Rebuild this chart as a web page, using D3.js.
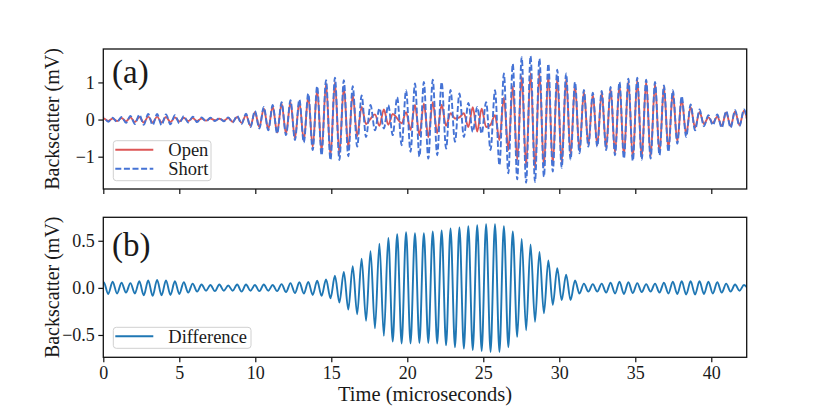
<!DOCTYPE html>
<html>
<head>
<meta charset="utf-8">
<script src="https://cdn.jsdelivr.net/npm/d3@7"></script>
<style>
  html, body { margin: 0; padding: 0; background: #fff; }
  svg text { font-family: "Liberation Serif", "Times New Roman", serif; fill: #1a1a1a; }
</style>
</head>
<body>
<svg id="chart" width="830" height="412"></svg>
<script>
// extrema of each trace, one value every half period (microseconds)
var tFirst = -0.2625;
var tStep = 0.2925;

var shortPeaks = [
  -0.04, 0.05, -0.06, 0.05, -0.07, 0.07, -0.09, 0.10, -0.12, 0.13, -0.14, 0.15, -0.15, 0.15, -0.15, 0.14, -0.13,
  0.12, -0.10, 0.09, -0.08, 0.08, -0.07, 0.06, -0.05, 0.05, -0.04, 0.04, -0.05, 0.06, -0.08, 0.10, -0.12, 0.16,
  -0.20, 0.23, -0.24, 0.34, -0.29, 0.39, -0.38, 0.47, -0.42, 0.52, -0.55, 0.54, -0.62, 0.70, -0.82, 0.90, -0.96, 1.06, -1.09, 1.13,
  -1.09, 1.06, -0.99, 0.90, -0.73, 0.65, -0.47, 0.39, -0.29, 0.30, -0.24, 0.39, -0.42, 0.60, -0.69, 0.79, -0.87, 0.97,
  -1.00, 1.01, -1.05, 1.07, -0.96, 1.01, -0.78, 0.80, -0.60, 0.70, -0.47, 0.45, -0.33, 0.34, -0.38, 0.47, -0.82, 0.79,
  -1.23, 1.24, -1.45, 1.50, -1.61, 1.68, -1.70, 1.71, -1.68, 1.64, -1.54, 1.50, -1.40, 1.34, -1.30, 1.24,
  -1.08, 1.01, -0.91, 0.80, -0.73, 0.72, -0.73, 0.77, -0.82, 0.88, -0.96, 1.01, -1.05, 1.10, -1.11, 1.13,
  -1.08, 1.07, -1.05, 1.01, -0.96, 0.92, -0.87, 0.79, -0.65, 0.63, -0.47, 0.41, -0.29, 0.27, -0.18, 0.12,
  -0.15, 0.14, -0.22, 0.23, -0.22, 0.25, -0.18, 0.27, -0.22
];

var openPeaks = [
  -0.02, 0.03, -0.04, 0.03, -0.04, 0.04, -0.05, 0.06, -0.07, 0.07, -0.08, 0.08, -0.08, 0.08, -0.08, 0.07, -0.07,
  0.06, -0.05, 0.05, -0.04, 0.04, -0.04, 0.03, -0.03, 0.03, -0.02, 0.02, -0.03, 0.04, -0.06, 0.07, -0.09, 0.12,
  -0.17, 0.20, -0.20, 0.30, -0.26, 0.36, -0.35, 0.43, -0.38, 0.47, -0.50, 0.48, -0.56, 0.63, -0.74, 0.81, -0.86, 0.97, -0.98, 1.00,
  -0.93, 0.89, -0.76, 0.67, -0.45, 0.34, -0.12, 0.02, 0.14, -0.17, 0.27, -0.14, 0.15, 0.03, -0.10, 0.20, -0.28, 0.39,
  -0.42, 0.43, -0.47, 0.47, -0.37, 0.40, -0.17, 0.17, 0.03, 0.06, 0.17, -0.20, 0.33, -0.32, 0.29, -0.20, -0.14, 0.12,
  -0.55, 0.59, -0.82, 0.90, -1.09, 1.16, -1.25, 1.25, -1.32, 1.26, -1.27, 1.21, -1.22, 1.13, -1.17, 1.10,
  -0.95, 0.93, -0.85, 0.76, -0.69, 0.68, -0.69, 0.73, -0.77, 0.83, -0.90, 0.95, -0.99, 1.04, -1.06, 1.08,
  -1.04, 1.03, -1.01, 0.97, -0.91, 0.87, -0.81, 0.73, -0.59, 0.56, -0.40, 0.34, -0.22, 0.20, -0.12, 0.06,
  -0.09, 0.08, -0.17, 0.19, -0.18, 0.22, -0.15, 0.24, -0.20
];

var diffPeaks = [
  -0.05, 0.06, -0.065, 0.065, -0.06, 0.055, -0.05, 0.05, -0.06, 0.07, -0.08, 0.08, -0.085, 0.085, -0.08, 0.08, -0.075,
  0.07, -0.065, 0.06, -0.05, 0.045, -0.04, 0.035, -0.03, 0.03, -0.035, 0.035, -0.03, 0.025, -0.03, 0.035, -0.04, 0.035,
  -0.03, 0.03, -0.035, 0.035, -0.03, 0.03, -0.035, 0.04, -0.045, 0.05, -0.055, 0.06, -0.06, 0.064, -0.075, 0.075, -0.085, 0.09, -0.11, 0.128,
  -0.156, 0.17, -0.23, 0.23, -0.28, 0.31, -0.35, 0.39, -0.43, 0.47, -0.51, 0.53, -0.57, 0.57, -0.59, 0.59, -0.59, 0.58,
  -0.585, 0.58, -0.585, 0.60, -0.59, 0.61, -0.61, 0.63, -0.63, 0.64, -0.645, 0.655, -0.66, 0.665, -0.67, 0.675, -0.68, 0.675,
  -0.68, 0.655, -0.63, 0.60, -0.52, 0.52, -0.45, 0.46, -0.36, 0.38, -0.27, 0.29, -0.18, 0.21, -0.13, 0.14,
  -0.13, 0.08, -0.06, 0.045, -0.04, 0.04, -0.04, 0.045, -0.05, 0.055, -0.06, 0.065, -0.065, 0.06, -0.055, 0.05,
  -0.045, 0.04, -0.04, 0.045, -0.05, 0.055, -0.06, 0.065, -0.065, 0.07, -0.07, 0.07, -0.07, 0.07, -0.065, 0.065,
  -0.06, 0.06, -0.05, 0.045, -0.04, 0.035, -0.03, 0.03, -0.02
];

var xDomain = [0, 42.33];
var xTicks = [0, 5, 10, 15, 20, 25, 30, 35, 40];
var topDomain = [-1.87, 1.9];
var topTicks = [-1, 0, 1];
var bottomDomain = [-0.737, 0.749];
var bottomTicks = [-0.5, 0, 0.5];

var red = "#dd5656";
var blue = "#4573d5";
var diffBlue = "#1f77b4";
var dash = "6,2.6";

var svg = d3.select("#chart");
var left = 103.3, right = 746.7;

var x = d3.scaleLinear().domain(xDomain).range([left, right]);

function toPoints(vals) {
  return vals.map(function (v, i) { return { t: tFirst + i * tStep, v: v }; });
}

function panel(id, top, bottom, yDomain, yTicks, yFmt, showXLabels) {
  var y = d3.scaleLinear().domain(yDomain).range([bottom, top]);
  var g = svg.append("g");

  svg.append("clipPath").attr("id", "clip" + id)
    .append("rect").attr("x", left).attr("y", top)
    .attr("width", right - left).attr("height", bottom - top);

  var xa = g.append("g").attr("transform", "translate(0," + bottom + ")")
    .call(d3.axisBottom(x).tickValues(xTicks).tickSize(5).tickPadding(4)
      .tickFormat(showXLabels ? d3.format("d") : ""));
  var ya = g.append("g").attr("transform", "translate(" + left + ",0)")
    .call(d3.axisLeft(y).tickValues(yTicks).tickSize(5).tickPadding(3.5).tickFormat(d3.format(yFmt)));

  [xa, ya].forEach(function (a) {
    a.select(".domain").remove();
    a.selectAll(".tick line").attr("stroke", "#111").attr("stroke-width", 1.2);
    a.selectAll(".tick text").style("font-size", "18px").attr("fill", "#1a1a1a");
  });

  var lines = g.append("g").attr("clip-path", "url(#clip" + id + ")");

  g.append("rect").attr("x", left).attr("y", top)
    .attr("width", right - left).attr("height", bottom - top)
    .attr("fill", "none").attr("stroke", "#111").attr("stroke-width", 1.3);

  return { g: g, y: y, lines: lines };
}

function trace(p, vals, color, dashes) {
  var line = d3.line()
    .x(function (d) { return x(d.t); })
    .y(function (d) { return p.y(d.v); })
    .curve(d3.curveMonotoneX);
  var path = p.lines.append("path").datum(toPoints(vals))
    .attr("d", line).attr("fill", "none")
    .attr("stroke", color).attr("stroke-width", 1.9);
  if (dashes) path.attr("stroke-dasharray", dashes);
}

function legend(p, x0, y0, w, h, items) {
  var lg = p.g.append("g");
  lg.append("rect").attr("x", x0).attr("y", y0).attr("width", w).attr("height", h)
    .attr("rx", 3).attr("fill", "#fff").attr("fill-opacity", 0.8)
    .attr("stroke", "#d0d0d0").attr("stroke-width", 1);
  items.forEach(function (it, i) {
    var cy = y0 + 9 + i * 19;
    lg.append("line").attr("x1", x0 + 2).attr("x2", x0 + 40).attr("y1", cy).attr("y2", cy)
      .attr("stroke", it.color).attr("stroke-width", 1.9)
      .attr("stroke-dasharray", it.dash || null);
    lg.append("text").attr("x", x0 + 55).attr("y", cy + 6.5)
      .style("font-size", "18.5px").text(it.label);
  });
}

// (a) open and short
var pa = panel("a", 49, 189, topDomain, topTicks, "d", false);
trace(pa, openPeaks, red, null);
trace(pa, shortPeaks, blue, dash);
pa.g.append("text").attr("x", 112).attr("y", 82.5).style("font-size", "33px").text("(a)");
legend(pa, 113.3, 140.7, 97.7, 40, [
  { label: "Open", color: red },
  { label: "Short", color: blue, dash: dash }
]);
pa.g.append("text").attr("transform", "translate(59,119) rotate(-90)")
  .attr("text-anchor", "middle").style("font-size", "20px").text("Backscatter (mV)");

// (b) difference
var pb = panel("b", 217.3, 357.3, bottomDomain, bottomTicks, ".1f", true);
trace(pb, diffPeaks, diffBlue, null);
pb.g.append("text").attr("x", 112).attr("y", 255.8).style("font-size", "33px").text("(b)");
legend(pb, 113.3, 327.3, 137.7, 21, [
  { label: "Difference", color: diffBlue }
]);
pb.g.append("text").attr("transform", "translate(59,287.3) rotate(-90)")
  .attr("text-anchor", "middle").style("font-size", "20px").text("Backscatter (mV)");

svg.append("text").attr("x", (left + right) / 2).attr("y", 401)
  .attr("text-anchor", "middle").style("font-size", "20.5px").text("Time (microseconds)");
</script>
</body>
</html>
